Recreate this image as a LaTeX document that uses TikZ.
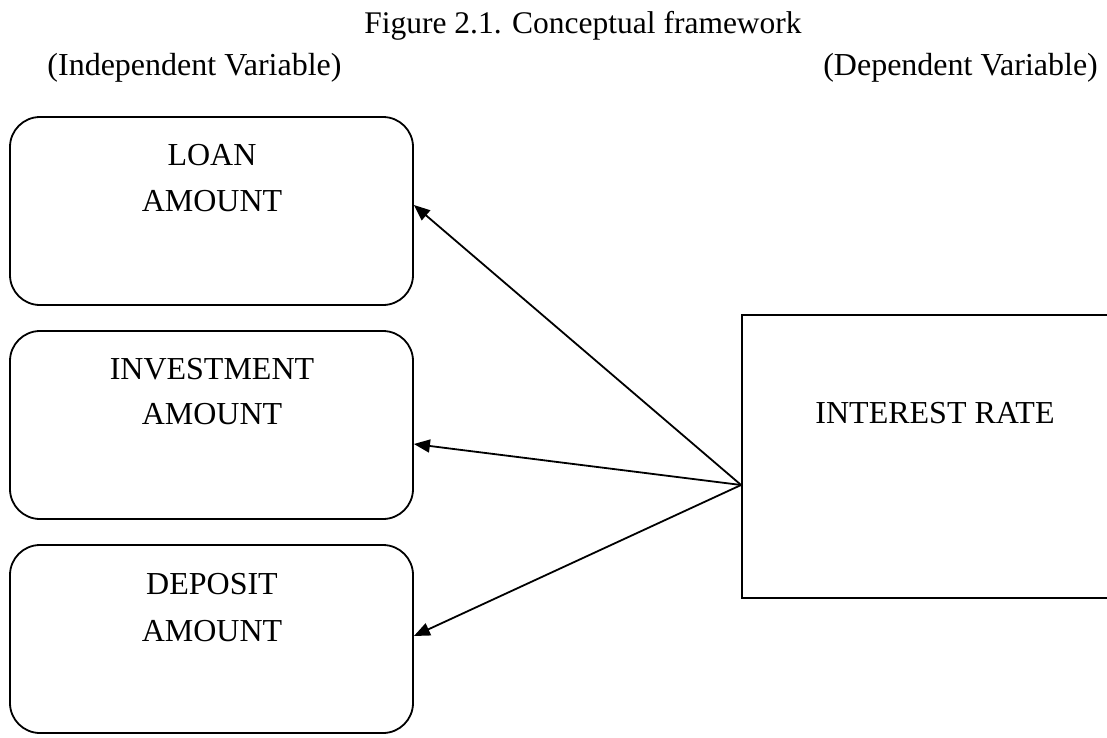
\documentclass[tikz,border=0pt]{standalone}
\usepackage{fontspec}
\setmainfont{Liberation Serif}
\usetikzlibrary{arrows.meta}
\begin{document}
\begin{tikzpicture}[x=1pt,y=-1pt,
  lbl/.style={inner sep=0pt,font=\fontsize{32}{38}\selectfont,anchor=base},
  ivbox/.style={draw,line width=1.8pt,rounded corners=30pt,minimum width=403pt,minimum height=188pt,inner sep=0pt},
  dvbox/.style={draw,line width=1.8pt,minimum width=388pt,minimum height=283pt,inner sep=0pt},
  conn/.style={line width=1.8pt,-{Triangle[length=16pt,width=13pt]}}]
\useasboundingbox (0,0) rectangle (1107,737);
\node[lbl,font=\fontsize{31.5}{38}\selectfont] (title) at (583,33) {Figure 2.1. Conceptual framework};
\node[lbl] (iv) at (194.5,75) {(Independent Variable)};
\node[lbl,anchor=base east] (dv) at (1098,75) {(Dependent Variable)};
\node[ivbox] (loan) at (211.5,211) {};
\node[ivbox] (inv) at (211.5,425) {};
\node[ivbox] (dep) at (211.5,639) {};
\node[dvbox] (ir) at (936,456.5) {};
\node[lbl] (t1a) at (212,165) {LOAN};
\node[lbl] (t1b) at (212,211) {AMOUNT};
\node[lbl] (t2a) at (212,379) {INVESTMENT};
\node[lbl] (t2b) at (212,424) {AMOUNT};
\node[lbl] (t3a) at (212,594) {DEPOSIT};
\node[lbl] (t3b) at (212,641) {AMOUNT};
\node[lbl] (t4) at (935,423) {INTEREST RATE};
\coordinate (src) at ([yshift=-28.5pt]ir.west);
\draw[conn] (src) -- ([yshift=6pt]loan.east);
\draw[conn] (src) -- ([yshift=-19pt]inv.east);
\draw[conn] (src) -- ([yshift=3pt]dep.east);
\end{tikzpicture}
\end{document}
